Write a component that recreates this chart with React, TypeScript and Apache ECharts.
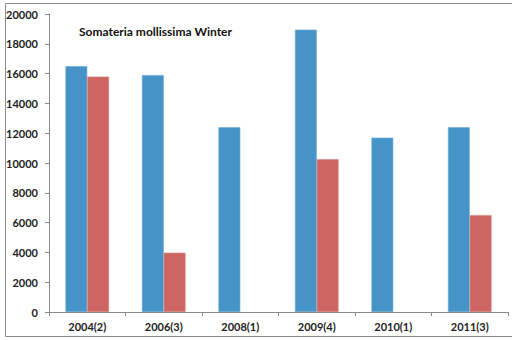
import React, { useEffect, useRef } from "react";
import * as echarts from "echarts";

const categories = ["2004(2)", "2006(3)", "2008(1)", "2009(4)", "2010(1)", "2011(3)"];
const blueValues = [16500, 15900, 12400, 18950, 11700, 12400];
const redValues: (number | null)[] = [15800, 3980, null, 10250, null, 6500];
const titleText = "Somateria mollissima Winter";

const FONT = "Lato, 'Open Sans', sans-serif";
const AXIS_COLOR = "#8a8a8a";

export default function App() {
  const ref = useRef<HTMLDivElement>(null);

  useEffect(() => {
    if (!ref.current) return;
    const chart = echarts.init(ref.current, null, { renderer: "svg" });
    chart.setOption({
      animation: false,
      grid: { left: 49, right: 4, top: 14, bottom: 28, containLabel: false },
      graphic: [
        {
          type: "rect",
          shape: { x: 5.5, y: 3.5, width: 520, height: 333 },
          style: { fill: "none", stroke: "#8c8c8c", lineWidth: 1 },
          silent: true,
          z: 10,
        },
        {
          type: "text",
          x: 79,
          y: 31,
          z: 10,
          style: {
            text: titleText,
            fontFamily: FONT,
            fontWeight: "bold",
            fontSize: 12,
            fill: "#111",
            verticalAlign: "middle",
          },
        },
      ],
      xAxis: {
        type: "category",
        data: categories,
        axisLine: { lineStyle: { color: AXIS_COLOR } },
        axisTick: { show: true, length: 4, lineStyle: { color: AXIS_COLOR } },
        axisLabel: {
          fontFamily: FONT,
          fontWeight: "bold",
          fontSize: 11,
          color: "#222",
          margin: 9,
        },
      },
      yAxis: {
        type: "value",
        min: 0,
        max: 20000,
        interval: 2000,
        axisLine: { show: true, lineStyle: { color: AXIS_COLOR } },
        axisTick: { show: true, length: 4, lineStyle: { color: AXIS_COLOR } },
        splitLine: { show: false },
        axisLabel: {
          fontFamily: FONT,
          fontWeight: "bold",
          fontSize: 11,
          color: "#222",
          margin: 11,
          formatter: (v: number) => String(v),
        },
      },
      series: [
        {
          type: "bar",
          data: blueValues,
          barGap: "0%",
          barCategoryGap: "43%",
          itemStyle: { color: "#4694c7", borderColor: "#6aaad6", borderWidth: 0.6 },
        },
        {
          type: "bar",
          data: redValues,
          itemStyle: { color: "#cd6662", borderColor: "#d98480", borderWidth: 0.6 },
        },
      ],
    });
    return () => chart.dispose();
  }, []);

  return (
    <div
      ref={ref}
      style={{ width: 512, height: 340, position: "absolute", left: 0, top: 0, background: "#fff" }}
    />
  );
}
